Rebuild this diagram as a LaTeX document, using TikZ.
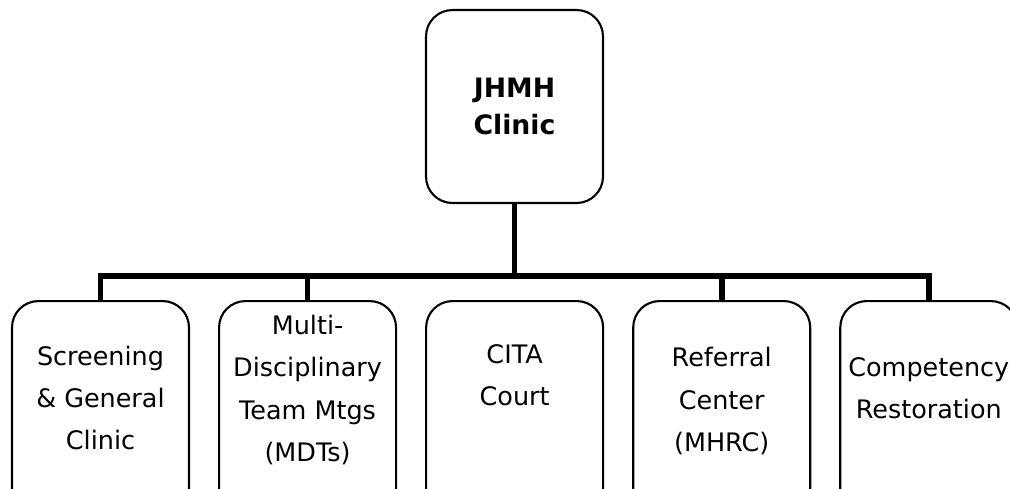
\documentclass[tikz,border=0pt]{standalone}
\usepackage{fontspec}
\setmainfont{DejaVu Sans}
\usetikzlibrary{positioning,calc}

\begin{document}
\begin{tikzpicture}[x=0.02cm, y=-0.02cm,
  box/.style={draw, line width=1.2pt, rounded corners=15pt,
              minimum width=3.54cm},
  hub/.style={box, minimum height=3.86cm,
              font=\fontsize{15.2}{21}\selectfont\bfseries, align=center},
  leaf/.style={box, minimum height=4.4cm},
  txt/.style={align=center, font=\fontsize{14.5}{24}\selectfont},
  link/.style={line width=3.2pt}]

 \useasboundingbox (0,0) rectangle (1010,488);
 \clip (0,0) rectangle (1010,488);

 % The clinic on top
 \node[hub] (top) at (514.5,106.5) {JHMH\\Clinic};

 % The five services below
 \node[leaf, anchor=north] (b1) at (100.5,300) {};
 \node[leaf, right=0.56cm of b1] (b2) {};
 \node[leaf, right=0.56cm of b2] (b3) {};
 \node[leaf, right=0.56cm of b3] (b4) {};
 \node[leaf, right=0.56cm of b4] (b5) {};

 % Their labels
 \node[txt] (t1) at ($(b1.north)+(0,98)$) {Screening\\\& General\\Clinic};
 \node[txt] (t2) at ($(b2.north)+(0,90)$) {Multi-\\Disciplinary\\Team Mtgs\\(MDTs)};
 \node[txt] (t3) at ($(b3.north)+(0,75)$) {CITA\\Court};
 \node[txt] (t4) at ($(b4.north)+(0,101)$) {Referral\\Center\\(MHRC)};
 \node[txt] (t5) at ($(b5.north)+(0,88)$) {Competency\\Restoration};

 % Connect the clinic with the services
 \draw[link] (top.south) -- ++(0,73);
 \draw[link] (b1.north) -- ++(0,-24) -| (b5.north);
 \draw[link] (b2.north) -- ++(0,-24);
 \draw[link] (b4.north) -- ++(0,-24);
\end{tikzpicture}
\end{document}
